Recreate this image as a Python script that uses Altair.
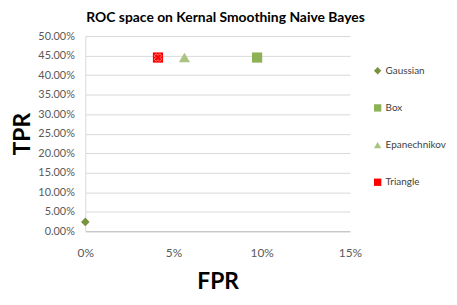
import altair as alt
import pandas as pd

names = ["Gaussian", "Box", "Epanechnikov", "Triangle"]
fpr = [0.0, 0.0974, 0.0562, 0.0412]
tpr = [0.024, 0.445, 0.445, 0.445]
colors = ["#77933C", "#8DB255", "#A9C47F", "#FF0000"]
shapes = ["diamond", "square", "triangle-up", "square"]
sizes = [75, 106, 125, 106]

x_ticks = [0, 0.05, 0.10, 0.15]
y_ticks = [0, 0.05, 0.10, 0.15, 0.20, 0.25, 0.30, 0.35, 0.40, 0.45, 0.50]

df = pd.DataFrame({"name": names, "fpr": fpr, "tpr": tpr, "sz": sizes})

FONT = "Lato"

x = alt.X("fpr:Q", title="FPR",
          scale=alt.Scale(domain=[0, 0.15], nice=False, zero=False),
          axis=alt.Axis(values=x_ticks, format=".0%", grid=False, ticks=False,
                        domainColor="#bfbfbf", labelColor="#595959", labelFontSize=12,
                        labelFont=FONT, labelPadding=16, titleFont=FONT, titleFontSize=23,
                        titleFontWeight="bold", titleColor="#000000", titlePadding=13,
                        labelFlush=False, labelOverlap=False))
y = alt.Y("tpr:Q", title="TPR",
          scale=alt.Scale(domain=[0, 0.5], nice=False),
          axis=alt.Axis(values=y_ticks, format=".2%", grid=True, gridColor="#d9d9d9",
                        ticks=False, domainColor="#d9d9d9", labelColor="#595959",
                        labelFontSize=11, labelFont=FONT, labelPadding=11,
                        labelOverlap=False, tickCount=11,
                        titleFont=FONT, titleFontSize=23, titleFontWeight="bold",
                        titleColor="#000000", titlePadding=3))

color = alt.Color("name:N", scale=alt.Scale(domain=names, range=colors),
                  legend=alt.Legend(title=None, orient="none", legendX=290, legendY=30,
                                    labelFont=FONT, labelFontSize=10, labelColor="#404040",
                                    symbolSize=55, rowPadding=27.5, padding=0, labelOffset=3,
                                    symbolStrokeWidth=0))
shape = alt.Shape("name:N", scale=alt.Scale(domain=names, range=shapes))

points = alt.Chart(df).mark_point(filled=True, opacity=1).encode(
    x=x, y=y, color=color, shape=shape,
    size=alt.Size("sz:Q", scale=None),
)

cross = alt.Chart(df[df["name"] == "Triangle"]).mark_point(
    shape="cross", size=60, color="#FF9999", strokeWidth=0.8, filled=False, opacity=1, angle=45
).encode(x=x, y=y)

chart = (points + cross).properties(
    width=267, height=197,
    padding={"left": 78, "top": 27, "right": 100, "bottom": 65},
    autosize=alt.AutoSizeParams(type="none"),
    title=alt.TitleParams("ROC space on Kernal Smoothing Naive Bayes", font=FONT,
                          fontSize=14, fontWeight="bold", color="#000000",
                          anchor="middle", frame="group", dx=8, offset=5),
    background="white",
).configure_view(stroke=None)

chart.save("out.html", embed_options={"renderer": "svg", "actions": False})
